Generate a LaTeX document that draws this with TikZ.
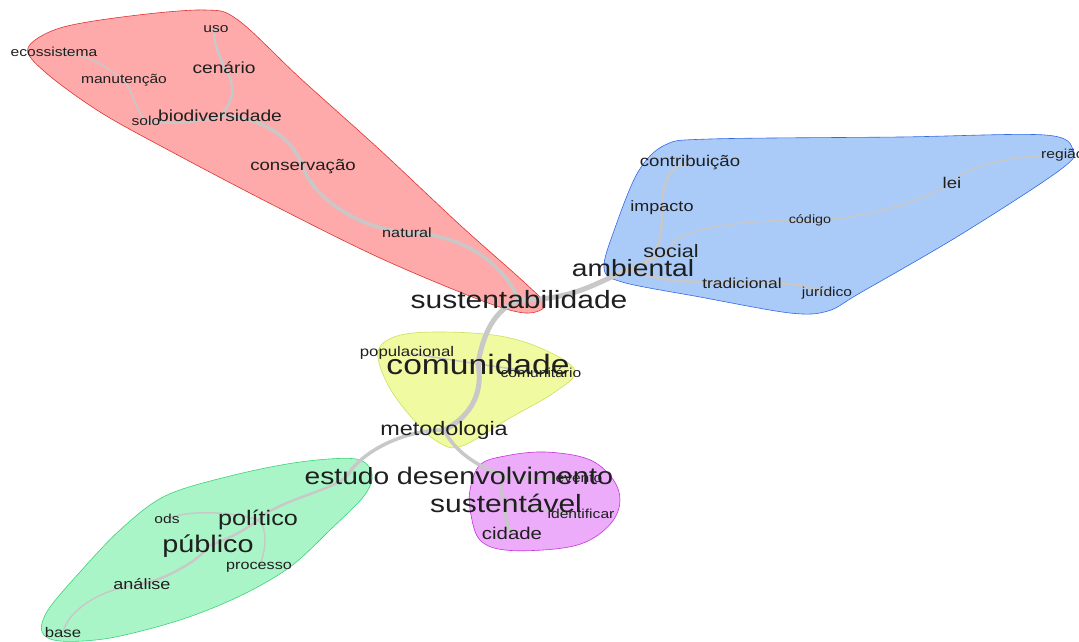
\documentclass[tikz,border=0pt]{standalone}
\usepackage{fontspec}
\setmainfont{Liberation Sans}[FakeStretch=1.2]
\usepackage{xcolor}
\usepackage{tikz}
\usetikzlibrary{positioning}

\definecolor{edgegray}{RGB}{200,200,200}
\definecolor{redfill}{RGB}{255,170,170}
\definecolor{redline}{RGB}{225,50,50}
\definecolor{bluefill}{RGB}{170,202,248}
\definecolor{blueline}{RGB}{50,105,230}
\definecolor{yellowfill}{RGB}{240,250,160}
\definecolor{yellowline}{RGB}{205,225,90}
\definecolor{magentafill}{RGB}{236,172,250}
\definecolor{magentaline}{RGB}{200,50,220}
\definecolor{greenfill}{RGB}{170,245,200}
\definecolor{greenline}{RGB}{60,210,120}

\pgfdeclarelayer{bg}
\pgfsetlayers{bg,main}

\begin{document}
\begin{tikzpicture}
  [
    x=1pt, y=-1pt,
    Word/.style={font=\fontsize{#1}{#1}\selectfont, inner sep=0pt, text=black!88},
    RedArea/.style={draw=redline, fill=redfill, line width=0.6pt},
    BlueArea/.style={draw=blueline, fill=bluefill, line width=0.6pt},
    YellowArea/.style={draw=yellowline, fill=yellowfill, line width=0.6pt},
    MagentaArea/.style={draw=magentaline, fill=magentafill, line width=0.6pt},
    GreenArea/.style={draw=greenline, fill=greenfill, line width=0.6pt},
    Spine/.style={draw=edgegray, line width=5pt},
    Branch/.style={draw=edgegray, line width=3.5pt},
    Twig/.style={draw=edgegray, line width=2.5pt},
    Hair/.style={draw=edgegray, line width=1.5pt}
  ]
  \useasboundingbox (0,0) rectangle (1079,642);

  % Nodes
  \node[Word=13pt] (uso) at(216, 29) {uso};
  \node[Word=13pt] (eco) at(54, 52) {ecossistema};
  \node[Word=16pt] (cen) at(224, 68) {cenário};
  \node[Word=13pt] (man) at(124, 80) {manutenção};
  \node[Word=13pt] (solo) at(146, 121) {solo};
  \node[Word=16pt] (bio) at(220, 116) {biodiversidade};
  \node[Word=15.5pt] (cons) at(303, 167) {conservação};
  \node[Word=13.5pt] (nat) at(407, 233) {natural};
  \node[Word=25pt] (sust) at(519, 300) {sustentabilidade};

  \node[Word=23.5pt] (amb) at(633, 268) {ambiental};
  \node[Word=18pt] (soc) at(671, 251) {social};
  \node[Word=15.5pt] (contr) at(690, 163) {contribuição};
  \node[Word=15pt] (imp) at(662, 208) {impacto};
  \node[Word=12pt] (cod) at(810, 220) {código};
  \node[Word=15.5pt] (lei) at(952, 183) {lei};
  \node[Word=13pt, anchor=west] (reg) at(1041, 155) {região};
  \node[Word=14.5pt] (trad) at(742, 283) {tradicional};
  \node[Word=13pt] (jur) at(827, 293) {jurídico};

  \node[Word=14pt] (pop) at(407, 353) {populacional};
  \node[Word=28pt] (com) at(478, 364) {comunidade};
  \node[Word=13pt] (comt) at(541, 373) {comunitário};
  \node[Word=19.5pt] (met) at(444, 430) {metodologia};

  \node[Word=24pt] (des) at(505, 476) {desenvolvimento};
  \node[Word=13pt] (eve) at(579, 478) {evento};
  \node[Word=25pt] (sus) at(506, 503) {sustentável};
  \node[Word=13pt] (ide) at(581, 514) {identificar};
  \node[Word=17pt] (cid) at(512, 533) {cidade};

  \node[Word=23.5pt] (est) at(347, 476) {estudo};
  \node[Word=21pt] (pol) at(258, 520) {político};
  \node[Word=13pt] (ods) at(167, 519) {ods};
  \node[Word=24pt] (pub) at(208, 546) {público};
  \node[Word=13.5pt] (proc) at(259, 567) {processo};
  \node[Word=15pt] (ana) at(142, 584) {análise};
  \node[Word=14pt] (base) at(63, 632) {base};

  \begin{pgfonlayer}{bg}
  % Areas
  \path[RedArea] plot[smooth cycle, tension=0.55] coordinates {(28,48) (60,28) (130,16) (205,10) (238,20) (300,78) (380,150) (460,225) (525,283) (545,305) (525,313) (480,300) (380,258) (275,206) (172,152) (100,112) (45,72)};
  \path[BlueArea] plot[smooth cycle, tension=0.55] coordinates {(604,268) (615,228) (638,172) (665,145) (710,139) (900,137) (1045,135) (1073,150) (1060,170) (960,235) (860,293) (828,311) (790,313) (700,297) (622,282)};
  \path[YellowArea] plot[smooth cycle, tension=0.6] coordinates {(378,352) (397,336) (440,332) (500,336) (545,350) (575,371) (555,392) (510,418) (462,446) (438,442) (412,418) (388,385)};
  \path[MagentaArea] plot[smooth cycle, tension=0.6] coordinates {(470,490) (480,465) (505,456) (545,452) (588,459) (612,478) (620,500) (612,522) (588,541) (555,549) (505,550) (480,540) (471,515)};
  \path[GreenArea] plot[smooth cycle, tension=0.55] coordinates {(372,474) (364,496) (330,530) (290,567) (240,596) (180,620) (110,638) (60,641) (42,632) (48,610) (80,572) (120,530) (165,496) (230,476) (300,462) (356,459)};

  % Lines
  \path [Branch] (sust.center) .. controls +(-20,-45) and +(45,0) .. (nat.center);
  \path [Branch] (nat.center) .. controls +(-50,-5) and +(10,30) .. (cons.center);
  \path [Branch] (cons.center) .. controls +(-10,-30) and +(40,0) .. (bio.center);
  \path [Twig] (bio.center) .. controls +(-30,8) and +(20,3) .. (solo.center);
  \path [Twig] (bio.center) .. controls +(15,-15) and +(12,15) .. (cen.center);
  \path [Twig] (cen.center) .. controls +(-5,-15) and +(-5,10) .. (uso.center);
  \path [Hair] (solo.center) .. controls +(-10,-10) and +(10,15) .. (man.center);
  \path [Hair] (man.center) .. controls +(-20,-15) and +(30,0) .. (eco.center);

  \path [Spine] (sust.center) .. controls +(-25,10) and +(5,-30) .. (com.center);
  \path [Spine] (com.center) .. controls +(5,25) and +(30,-15) .. (met.center);
  \path [Branch] (met.center) .. controls +(-40,0) and +(15,-25) .. (est.center);
  \path [Branch] (met.center) .. controls +(10,20) and +(-30,-10) .. (des.center);
  \path [Branch] (des.center) .. controls +(-8,8) and +(-5,-8) .. (sus.center);
  \path [Branch] (sus.center) .. controls +(0,12) and +(-8,-10) .. (cid.center);
  \path [Hair] (des.center) .. controls +(30,5) and +(-20,0) .. (eve.center);
  \path [Hair] (sus.center) .. controls +(30,5) and +(-20,0) .. (ide.center);
  \path [Hair] (com.center) -- (pop.center);
  \path [Hair] (com.center) -- (comt.center);

  \path [Spine] (sust.center) .. controls +(60,0) and +(-30,10) .. (amb.center);
  \path [Twig] (amb.center) -- (soc.center);
  \path [Twig] (amb.center) .. controls +(30,-10) and +(0,20) .. (imp.center);
  \path [Twig] (imp.center) .. controls +(0,-25) and +(-20,0) .. (contr.center);
  \path [Hair] (soc.center) .. controls +(-5,-20) and +(-80,0) .. (cod.center);
  \path [Hair] (cod.center) .. controls +(60,0) and +(-25,15) .. (lei.center);
  \path [Hair] (lei.center) .. controls +(15,-20) and +(-40,0) .. (reg.center);
  \path [Twig] (amb.center) .. controls +(10,12) and +(-50,0) .. (trad.center);
  \path [Twig] (trad.center) .. controls +(40,-3) and +(-10,-5) .. (jur.center);

  \path [Twig] (est.center) .. controls +(-15,15) and +(20,-20) .. (pol.center);
  \path [Twig] (pol.center) .. controls +(-15,12) and +(15,-5) .. (pub.center);
  \path [Twig] (pub.center) .. controls +(-5,12) and +(25,-5) .. (ana.center);
  \path [Hair] (ana.center) .. controls +(-45,5) and +(5,-20) .. (base.center);
  \path [Hair] (ods.center) .. controls +(15,-8) and +(-30,-10) .. (pol.center);
  \path [Hair] (pol.center) .. controls +(12,10) and +(5,-10) .. (proc.center);
  \end{pgfonlayer}

\end{tikzpicture}
\end{document}
